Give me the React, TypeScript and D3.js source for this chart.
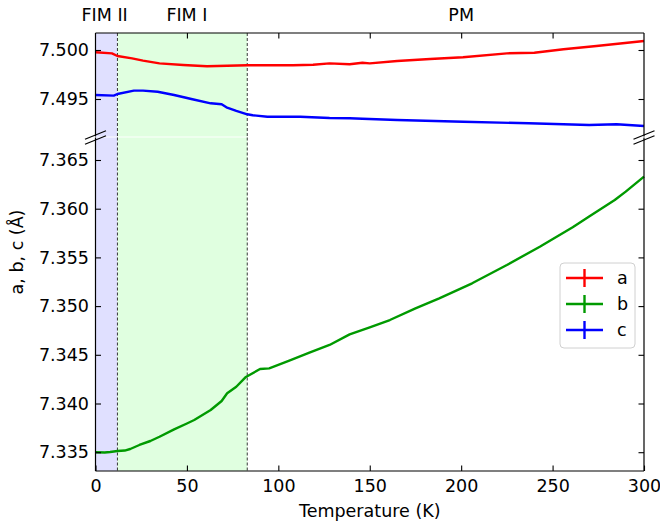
import { useEffect, useRef } from 'react';
import * as d3 from 'd3';

// lattice parameters vs temperature
const tempA = [0, 9, 12, 20, 26, 35, 48, 61, 72, 83, 108, 119, 128, 139, 146, 150, 165, 183, 201, 225, 240, 256, 274, 300];
const latticeA = [7.49977, 7.49966, 7.49939, 7.49915, 7.49891, 7.49864, 7.49847, 7.49834, 7.4984, 7.49844, 7.49844, 7.4985, 7.49864, 7.49854, 7.4987, 7.49864, 7.49888, 7.49908, 7.49926, 7.49966, 7.49972, 7.50007, 7.50041, 7.50092];

const tempB = [0, 5, 8, 12, 16, 19, 24, 30, 35, 43, 50, 54, 63, 69, 72, 77, 82, 90, 95, 106, 117, 128, 139, 150, 161, 175, 188, 206, 225, 243, 261, 270, 284, 290, 300];
const latticeB = [7.33499, 7.33497, 7.33502, 7.33512, 7.33517, 7.33533, 7.33574, 7.33615, 7.33659, 7.33735, 7.33795, 7.33831, 7.33933, 7.34026, 7.34105, 7.34172, 7.34269, 7.34354, 7.34361, 7.34439, 7.34522, 7.34601, 7.3471, 7.34782, 7.34857, 7.34977, 7.3508, 7.35234, 7.35422, 7.3561, 7.3581, 7.3592, 7.36089, 7.36175, 7.36329];

const tempC = [0, 10, 12, 21, 26, 34, 43, 53, 63, 69, 71.6, 77, 83, 86, 94, 112, 128, 139, 146, 165, 201, 237, 270, 285, 300];
const latticeC = [7.49541, 7.49534, 7.49551, 7.49585, 7.49585, 7.49574, 7.49541, 7.49497, 7.49456, 7.49446, 7.49415, 7.49378, 7.49344, 7.49334, 7.49319, 7.49319, 7.49306, 7.49303, 7.49299, 7.49286, 7.49268, 7.49252, 7.49235, 7.49242, 7.49224];

// magnetic phases
const phaseBounds = [0, 12, 83, 300];
const phaseNames = ['FIM II', 'FIM I', 'PM'];
const phaseLabelT = [5, 50, 200];
const phaseFills = ['#e0e0ff', '#e0ffe0', 'none'];

const xTicks = [0, 50, 100, 150, 200, 250, 300];
const topTicks = [7.495, 7.5];
const bottomTicks = [7.335, 7.34, 7.345, 7.35, 7.355, 7.36, 7.365];

const seriesNames = ['a', 'b', 'c'];
const seriesColors = ['#ff0000', '#009a00', '#0000ff'];

const W = 660;
const H = 525;
const FONT = 'DejaVu Sans, sans-serif';
const FS = 17.5;

export default function App() {
  const svgRef = useRef(null);

  useEffect(() => {
    const svg = d3.select(svgRef.current);
    svg.selectAll('*').remove();

    const left = 95.5;
    const right = 644;
    const top1 = 33, bot1 = 136.5;   // upper panel
    const top2 = 137.5, bot2 = 471;  // lower panel

    const x = d3.scaleLinear().domain([0, 300]).range([left, right]);
    const yTop = d3.scaleLinear().domain([7.491173, 7.501735]).range([bot1, top1]);
    const yBot = d3.scaleLinear().domain([7.33307, 7.36731]).range([bot2, top2]);

    svg.append('rect').attr('width', W).attr('height', H).attr('fill', '#fff');

    const panels = [
      { y: yTop, t: top1, b: bot1 },
      { y: yBot, t: top2, b: bot2 },
    ];

    // phase shading + dashed boundaries
    panels.forEach(p => {
      phaseFills.forEach((f, i) => {
        if (f === 'none') return;
        svg.append('rect')
          .attr('x', x(phaseBounds[i]))
          .attr('y', p.t)
          .attr('width', x(phaseBounds[i + 1]) - x(phaseBounds[i]))
          .attr('height', p.b - p.t)
          .attr('fill', f);
      });
      [phaseBounds[1], phaseBounds[2]].forEach(t => {
        svg.append('line')
          .attr('x1', x(t)).attr('x2', x(t))
          .attr('y1', p.t).attr('y2', p.b)
          .attr('stroke', '#222')
          .attr('stroke-width', 0.9)
          .attr('stroke-dasharray', '3,2');
      });
    });

    // curves
    const lineTop = d3.line<[number, number]>().x(d => x(d[0])).y(d => yTop(d[1]));
    const lineBot = d3.line<[number, number]>().x(d => x(d[0])).y(d => yBot(d[1]));
    const curves = [
      { d: lineTop(tempA.map((t, i) => [t, latticeA[i]])), c: seriesColors[0] },
      { d: lineBot(tempB.map((t, i) => [t, latticeB[i]])), c: seriesColors[1] },
      { d: lineTop(tempC.map((t, i) => [t, latticeC[i]])), c: seriesColors[2] },
    ];
    curves.forEach(cv => {
      svg.append('path')
        .attr('d', cv.d)
        .attr('fill', 'none')
        .attr('stroke', cv.c)
        .attr('stroke-width', 2.4)
        .attr('stroke-linejoin', 'round');
    });

    const styleAxis = (g: any) => {
      g.select('.domain').remove();
      g.selectAll('line').attr('stroke', '#000').attr('stroke-width', 1.1);
      g.selectAll('text').attr('font-family', FONT).attr('font-size', FS).attr('fill', '#000');
    };

    // upper panel axes
    svg.append('g').attr('transform', `translate(${left},0)`)
      .call(d3.axisLeft(yTop).tickValues(topTicks).tickSize(-5.5).tickPadding(6.5).tickFormat(d3.format('.3f')))
      .call(styleAxis);
    svg.append('g').attr('transform', `translate(${right},0)`)
      .call(d3.axisRight(yTop).tickValues(topTicks).tickSize(-5.5).tickFormat(() => ''))
      .call(styleAxis);
    svg.append('g').attr('transform', `translate(0,${top1})`)
      .call(d3.axisTop(x).tickValues(xTicks.slice(1, -1)).tickSize(-5.5).tickFormat(() => ''))
      .call(styleAxis);

    // lower panel axes
    svg.append('g').attr('transform', `translate(${left},0)`)
      .call(d3.axisLeft(yBot).tickValues(bottomTicks).tickSize(-5.5).tickPadding(6.5).tickFormat(d3.format('.3f')))
      .call(styleAxis);
    svg.append('g').attr('transform', `translate(${right},0)`)
      .call(d3.axisRight(yBot).tickValues(bottomTicks).tickSize(-5.5).tickFormat(() => ''))
      .call(styleAxis);
    svg.append('g').attr('transform', `translate(0,${bot2})`)
      .call(d3.axisBottom(x).tickValues(xTicks).tickSize(-5.5).tickPadding(8.5).tickFormat(d3.format('d')))
      .call(styleAxis);

    // spines
    const spine = (x1: number, y1: number, x2: number, y2: number) =>
      svg.append('line').attr('x1', x1).attr('y1', y1).attr('x2', x2).attr('y2', y2)
        .attr('stroke', '#000').attr('stroke-width', 1.2);
    spine(left, top1, left, bot1);
    spine(right, top1, right, bot1);
    spine(left, top1, right, top1);
    spine(left, top2, left, bot2);
    spine(right, top2, right, bot2);
    spine(left, bot2, right, bot2);

    // axis break marks
    [left, right].forEach(sx => {
      [bot1 - 1.5, top2 + 2.5].forEach(sy => {
        svg.append('line')
          .attr('x1', sx - 10.5).attr('y1', sy + 4.3)
          .attr('x2', sx + 10.5).attr('y2', sy - 4.3)
          .attr('stroke', '#000').attr('stroke-width', 1.2);
      });
    });

    // phase labels above the plot
    phaseNames.forEach((n, i) => {
      svg.append('text')
        .attr('x', x(phaseLabelT[i])).attr('y', 20.5)
        .attr('text-anchor', 'middle')
        .attr('font-family', FONT).attr('font-size', FS)
        .text(n);
    });

    // axis titles
    svg.append('text')
      .attr('x', (left + right) / 2).attr('y', 517)
      .attr('text-anchor', 'middle')
      .attr('font-family', FONT).attr('font-size', FS)
      .text('Temperature (K)');
    svg.append('text')
      .attr('transform', `translate(23,${(top1 + bot2) / 2}) rotate(-90)`)
      .attr('text-anchor', 'middle')
      .attr('font-family', FONT).attr('font-size', FS)
      .text('a, b, c (Å)');

    // legend
    const lg = svg.append('g');
    lg.append('rect')
      .attr('x', 560).attr('y', 263).attr('width', 75).attr('height', 85)
      .attr('rx', 4).attr('fill', '#fff').attr('fill-opacity', 0.85)
      .attr('stroke', '#d0d0d0').attr('stroke-width', 1);
    seriesNames.forEach((n, i) => {
      const cy = 278 + i * 26;
      lg.append('line').attr('x1', 566).attr('x2', 603).attr('y1', cy).attr('y2', cy)
        .attr('stroke', seriesColors[i]).attr('stroke-width', 2.4);
      lg.append('line').attr('x1', 584.5).attr('x2', 584.5).attr('y1', cy - 9).attr('y2', cy + 9)
        .attr('stroke', seriesColors[i]).attr('stroke-width', 2.4);
      lg.append('text')
        .attr('x', 617).attr('y', cy).attr('dy', '0.35em')
        .attr('font-family', FONT).attr('font-size', FS)
        .text(n);
    });
  }, []);

  return (
    <svg
      ref={svgRef}
      width={W}
      height={H}
      style={{ position: 'absolute', left: 0, top: 0, display: 'block' }}
    />
  );
}
